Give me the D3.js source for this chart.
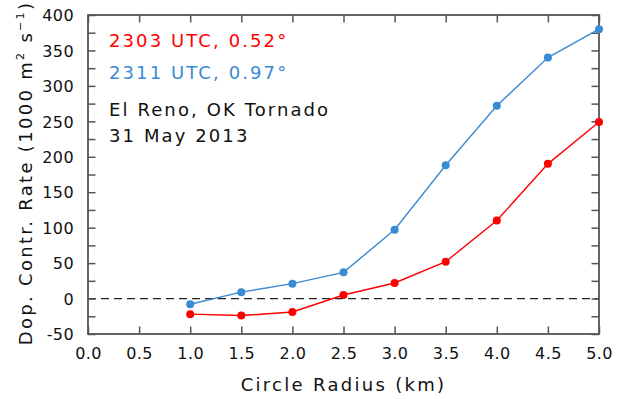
<!DOCTYPE html>
<html><head><meta charset="utf-8">
<script src="https://cdn.jsdelivr.net/npm/d3@7"></script>
<style>
body{margin:0;background:#fff;}
text{font-family:"DejaVu Sans",sans-serif;}
</style></head>
<body><svg id="c" width="619" height="399"></svg>
<script>
const radius = [1.0,1.5,2.0,2.5,3.0,3.5,4.0,4.5,5.0];
const red2303 = [-22,-24,-19,5,22,52,110,190,249];
const blue2311 = [-8,9,21,37,97,188,272,340,380];
const xTicks = [0,0.5,1,1.5,2,2.5,3,3.5,4,4.5,5];
const yTicks = [-50,0,50,100,150,200,250,300,350,400];
const yMinor = d3.range(-50,401,25);
const legend = [
  {text:"2303 UTC, 0.52°", color:"#ff0000"},
  {text:"2311 UTC, 0.97°", color:"#3a8ad4"}
];
const notes = ["El Reno, OK Tornado","31 May 2013"];

const m = {l:88, r:599, t:15, b:334};
const svg = d3.select("#c");
const x = d3.scaleLinear().domain([0,5]).range([m.l,m.r]);
const y = d3.scaleLinear().domain([-50,400]).range([m.b,m.t]);
const frame = "#555";

// zero dashed line
svg.append("line").attr("x1",x(0)).attr("x2",x(5)).attr("y1",y(0)).attr("y2",y(0))
  .attr("stroke","#222").attr("stroke-width",1.3).attr("stroke-dasharray","8,5");

// axes with inward ticks
const tl = 7.5;
const gB = svg.append("g").attr("transform",`translate(0,${m.b})`)
  .call(d3.axisBottom(x).tickValues(xTicks).tickSize(-tl).tickPadding(14).tickFormat(d3.format(".1f")));
const gT = svg.append("g").attr("transform",`translate(0,${m.t})`)
  .call(d3.axisTop(x).tickValues(xTicks).tickSize(-tl).tickFormat(""));
const gL = svg.append("g").attr("transform",`translate(${m.l},0)`)
  .call(d3.axisLeft(y).tickValues(yMinor).tickSize(-tl).tickPadding(14)
    .tickFormat(d => yTicks.includes(d) ? d : ""));
const gR = svg.append("g").attr("transform",`translate(${m.r},0)`)
  .call(d3.axisRight(y).tickValues(yMinor).tickSize(-tl).tickFormat(""));
[gB,gT,gL,gR].forEach(g=>{
  g.select(".domain").remove();
  g.selectAll(".tick line").attr("stroke",frame).attr("stroke-width",1.5);
  g.selectAll(".tick text").attr("fill","#111").style("font-size","16px")
   .style("font-family","'DejaVu Sans',sans-serif").style("letter-spacing","0.4px");
});
gL.selectAll(".tick text").attr("dy","0.36em");
gB.selectAll(".tick text").attr("dy","0.68em");

// frame
svg.append("rect").attr("x",m.l).attr("y",m.t).attr("width",m.r-m.l).attr("height",m.b-m.t)
  .attr("fill","none").attr("stroke",frame).attr("stroke-width",1.8);

// series
const series = [{vals:red2303,color:legend[0].color},{vals:blue2311,color:legend[1].color}];
const line = d3.line().x((d,i)=>x(radius[i])).y(d=>y(d));
series.forEach(s=>{
  svg.append("path").datum(s.vals).attr("d",line).attr("fill","none")
    .attr("stroke",s.color).attr("stroke-width",1.4);
  svg.selectAll(null).data(s.vals).enter().append("circle")
    .attr("cx",(d,i)=>x(radius[i])).attr("cy",d=>y(d)).attr("r",4).attr("fill",s.color);
});

// legend text
const ls = {"font-size":"18px","letter-spacing":"2.1px"};
legend.forEach((l,i)=>{
  svg.append("text").attr("x",109).attr("y",47+i*32).attr("fill",l.color)
    .style("font-size",ls["font-size"]).style("letter-spacing",ls["letter-spacing"]).text(l.text);
});
notes.forEach((t,i)=>{
  svg.append("text").attr("x",109).attr("y",116+i*25.5).attr("fill","#111")
    .style("font-size",ls["font-size"]).style("letter-spacing",ls["letter-spacing"]).text(t);
});

// axis titles
svg.append("text").attr("x",(m.l+m.r)/2).attr("y",391).attr("text-anchor","middle")
  .attr("fill","#111").style("font-size","18px").style("letter-spacing","2.3px").text("Circle Radius (km)");
const yt = svg.append("text").attr("transform","translate(31.5,173) rotate(-90)")
  .attr("text-anchor","middle").attr("fill","#111").style("font-size","18px").style("letter-spacing","2.3px");
yt.append("tspan").text("Dop. Contr. Rate (1000 m");
yt.append("tspan").attr("dy",-8).style("font-size","11px").text("2");
yt.append("tspan").attr("dy",8).text(" s");
yt.append("tspan").attr("dy",-8).style("font-size","11px").text("−1");
yt.append("tspan").attr("dy",8).text(")");
</script></body></html>
